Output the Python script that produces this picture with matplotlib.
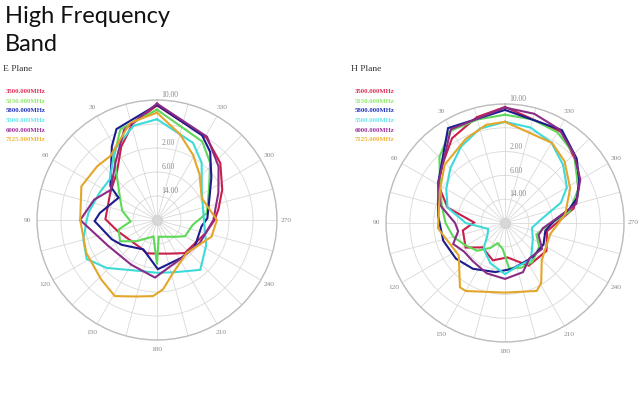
import numpy as np
import matplotlib
matplotlib.use('Agg')
import matplotlib.pyplot as plt

# ---------------- data ----------------
freq_labels = ['3500.000MHz', '5150.000MHz', '5800.000MHz', '5500.000MHz', '6000.000MHz', '7125.000MHz']
line_colors = ['#c8204a', '#5fd85a', '#1c1c8e', '#3ddada', '#8a2c86', '#e3a62a']
text_colors = ['#e0305a', '#8ee86a', '#2233bb', '#5ee8ee', '#a0309a', '#f0b43a']

ring_values = [-22, -14, -6, 2, 10]
ring_labels = ['14.00', '6.00', '2.00', '', '10.00']
angle_ticks = list(range(30, 360, 30))
angle_labels = [str(a) for a in angle_ticks]

# E Plane (angle in degrees, level in dB)
e3500_deg = [0, 14, 26, 40, 60, 89, 106, 151, 163, 180, 201, 220, 255, 270, 280, 295, 312, 329]
e3500_db = [8.2, 3.2, -2.8, -9.2, -12.0, -12.8, -16.4, -19.2, -18.4, -18.8, -18.0, -15.6, -13.2, -10.8, -9.2, -6.0, -1.6, 2.0]

e5150_deg = [0, 22, 34, 59, 75, 93, 104, 120, 136, 168, 180, 186, 227, 240, 262, 278, 300, 317, 330]
e5150_db = [6.8, 2.6, -4.4, -15.6, -18.0, -21.2, -16.8, -15.8, -20.2, -24.4, -15.2, -24.4, -21.8, -19.2, -18.0, -13.2, -10.0, -4.0, 0.2]

e5800_deg = [0, 24, 31.5, 54, 60, 83, 91, 113, 125, 155, 181, 213, 235, 262, 272, 296, 308, 322, 332]
e5800_db = [8.4, 3.2, -1.2, -10.8, -15.2, -10.8, -9.2, -13.6, -15.6, -19.2, -13.6, -15.0, -14.6, -15.0, -13.2, -10.4, -7.0, -1.2, 2.0]

e5500_deg = [0, 14, 31, 49, 64.5, 84, 92, 105, 119, 133.5, 163, 180, 199, 221, 243, 277, 304, 322, 335]
e5500_db = [3.6, 2.4, -2.6, -9.2, -8.8, -7.0, -6.4, -4.6, -3.2, -6.8, -12.2, -12.4, -11.6, -8.0, -11.6, -14.4, -12.0, -5.8, -1.6]

e6000_deg = [0, 20, 36, 57, 72, 90, 118, 150, 178, 210, 242, 270, 294, 311, 329]
e6000_db = [8.8, 2.0, -6.4, -11.6, -8.0, -4.4, -11.6, -12.8, -10.8, -14.8, -13.8, -11.2, -7.6, -2.8, 2.4]

e7125_deg = [0, 15.5, 36, 48, 66, 90, 115, 137, 151, 165, 177, 185, 197, 222, 253, 270, 296, 317, 331, 345]
e7125_db = [5.8, 3.6, -3.6, -3.2, -2.4, -4.4, -4.0, -2.8, -1.0, -3.6, -4.6, -6.8, -11.6, -15.2, -11.0, -10.0, -13.4, -9.2, -5.2, -0.4]

# H Plane
h3500_deg = [0, 15, 32, 46, 60, 75, 89, 100, 122, 137, 162, 184, 209, 236, 259, 282, 295, 311, 328]
h3500_db = [9.0, 6.8, 3.6, -1.0, -4.0, -10.0, -19.6, -15.6, -14.4, -18.8, -16.8, -18.4, -13.6, -13.2, -15.6, -6.4, -2.8, 1.6, 6.0]

h5150_deg = [0, 15, 31, 45, 60, 75, 90, 105, 120, 135, 150, 160, 175, 185, 200, 215, 235, 250, 265, 280, 295, 315, 330, 345]
h5150_db = [6.4, 6.0, 6.0, 1.2, -4.8, -8.0, -10.0, -12.0, -14.8, -16.8, -20.4, -22.8, -21.2, -14.8, -14.0, -14.0, -16.0, -18.8, -16.0, -8.0, -2.8, 2.8, 5.2, 6.0]

h5800_deg = [0, 31, 58, 84, 106, 126, 145, 169, 189, 218, 241, 259, 272, 282, 289, 300, 312, 328.5]
h5800_db = [8.0, 7.2, -3.6, -7.4, -8.4, -9.6, -11.2, -13.2, -14.4, -15.2, -15.2, -16.2, -13.6, -8.0, -4.4, -1.2, 2.4, 6.6]

h5500_deg = [0, 15, 30, 45, 60, 75, 90, 100, 110, 125, 140, 160, 180, 195, 215, 240, 260, 275, 290, 300, 315, 330, 345]
h5500_db = [4.0, 2.8, -0.4, -4.0, -7.2, -10.0, -16.8, -22.0, -24.0, -22.8, -18.8, -15.6, -12.8, -14.8, -14.8, -19.2, -20.8, -18.0, -10.0, -6.0, -2.4, 1.2, 3.2]

h6000_deg = [0, 30, 60, 75, 90, 100, 112, 125, 140, 160, 180, 200, 215, 235, 250, 262, 272, 285, 300, 315, 330, 345]
h6000_db = [8.8, 6.4, -4.0, -7.6, -13.2, -14.0, -11.2, -13.2, -13.2, -12.0, -11.2, -12.4, -15.6, -14.8, -18.0, -17.2, -14.0, -5.2, -0.8, 2.8, 6.4, 8.0]

h7125_deg = [0, 11, 25, 46, 64, 94.5, 125, 145, 150, 180, 205, 211, 224.5, 256, 278, 298, 316, 329.5]
h7125_db = [4.0, 3.6, 1.2, -1.8, -5.6, -7.4, -11.0, -3.6, -3.6, -6.6, -4.8, -6.4, -12.4, -14.4, -9.6, -5.2, -1.2, 1.2]

e_series = [(e3500_deg, e3500_db), (e5150_deg, e5150_db), (e5800_deg, e5800_db),
            (e5500_deg, e5500_db), (e6000_deg, e6000_db), (e7125_deg, e7125_db)]
h_series = [(h3500_deg, h3500_db), (h5150_deg, h5150_db), (h5800_deg, h5800_db),
            (h5500_deg, h5500_db), (h6000_deg, h6000_db), (h7125_deg, h7125_db)]

R_MIN, R_MAX = -30, 10

# ---------------- figure ----------------
fig = plt.figure(figsize=(6.4, 3.96), dpi=100)
fig.patch.set_facecolor('white')

fig.text(5 / 640, 1 - 23 / 396, 'High Frequency', fontsize=17, family='Lato',
         va='baseline', ha='left', color='#111111')
fig.text(5 / 640, 1 - 51 / 396, 'Band', fontsize=17, family='Lato',
         va='baseline', ha='left', color='#111111')

serif = 'Liberation Serif'


def draw_panel(rect, series, title, title_xy, legend_x):
    ax = fig.add_axes(rect, projection='polar')
    ax.set_theta_zero_location('N')
    ax.set_theta_direction(1)
    ax.set_ylim(R_MIN, R_MAX)
    ax.set_xticks(np.deg2rad(np.arange(0, 360, 15)))
    ax.set_xticklabels([])
    ax.set_yticks(ring_values)
    ax.set_yticklabels([])
    ax.grid(True, color='#d9d9d9', lw=0.6)
    ax.spines['polar'].set_color('#bdbdbd')
    ax.spines['polar'].set_linewidth(1.0)
    ax.set_facecolor('white')

    for a, lab in zip(angle_ticks, angle_labels):
        ax.text(np.deg2rad(a), R_MAX + 0.078 * (R_MAX - R_MIN), lab, ha='center', va='center',
                fontsize=5.3, color='#8a8a8a', family=serif, clip_on=False)
    for v, lab in zip(ring_values, ring_labels):
        if lab:
            ax.annotate(lab, xy=(0, v), xytext=(3, 0.5), textcoords='offset points',
                        ha='left', va='bottom', fontsize=5.5, color='#8a8a8a', family=serif,
                        annotation_clip=False)

    for (deg, db), c in zip(series, line_colors):
        th = np.deg2rad(np.array(deg + [deg[0]], dtype=float))
        r = np.array(db + [db[0]], dtype=float)
        ax.plot(th, r, color=c, lw=1.5, solid_joinstyle='miter')

    ax.plot([0], [R_MIN], 'o', ms=7, color='#cfcfcf', zorder=1, clip_on=False)

    fig.text(title_xy[0] / 640, 1 - title_xy[1] / 396, title, fontsize=6.8, family=serif,
             color='#333333', va='center', ha='left')
    for i, (lab, tc) in enumerate(zip(freq_labels, text_colors)):
        fig.text(legend_x / 640, 1 - (91.5 + 9.65 * i) / 396, lab, fontsize=4.9, family=serif,
                 weight='bold', color=tc, va='center', ha='left')
    return ax


draw_panel([0.0578, 0.1414, 0.375, 0.606], e_series, 'E Plane', (3, 69), 6)
draw_panel([0.6031, 0.1364, 0.372, 0.601], h_series, 'H Plane', (351, 69), 355)

fig.savefig('out.png', dpi=100, facecolor='white')
